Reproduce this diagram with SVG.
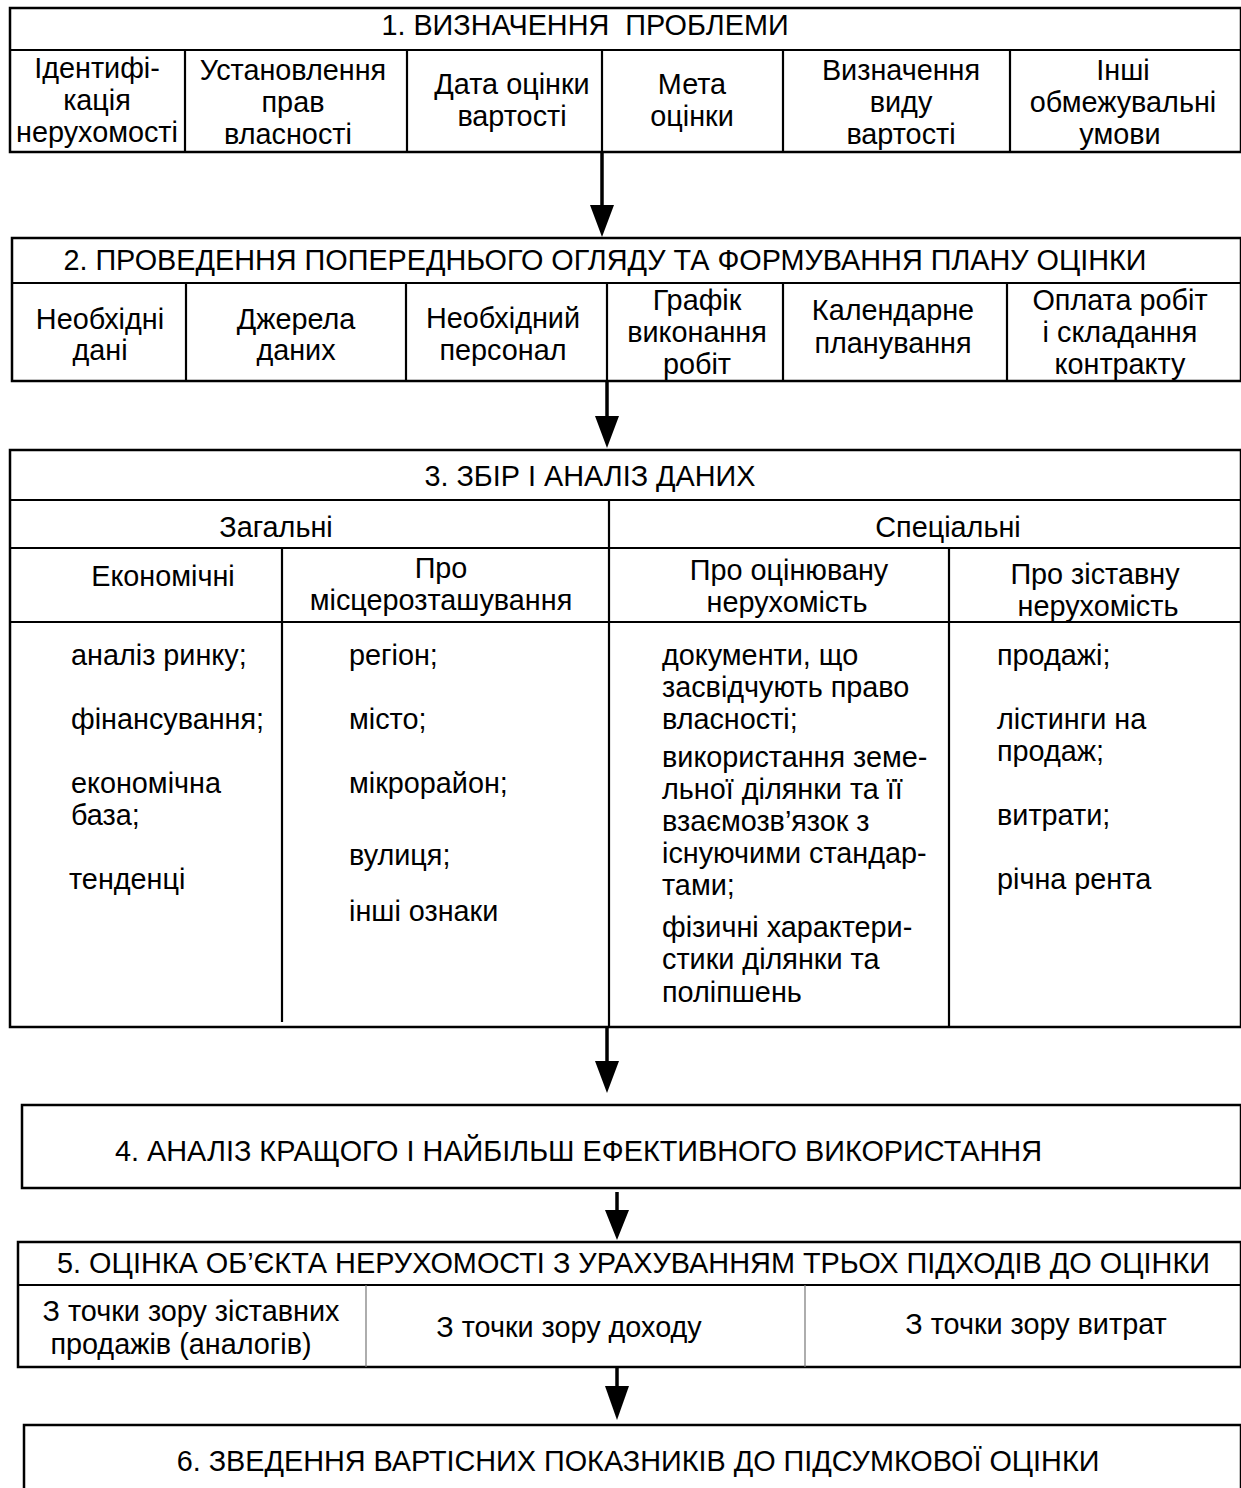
<svg xmlns="http://www.w3.org/2000/svg" width="1241" height="1488" viewBox="0 0 1241 1488">
<style>
text{font-family:"Liberation Sans",Arial,sans-serif;font-size:28.8px;fill:#000}
.c{text-anchor:middle}
.b{fill:none;stroke:#000;stroke-width:2.5}
.l{stroke:#000;stroke-width:2.2}
.t{stroke:#777;stroke-width:1.2}
.a{stroke:#000;stroke-width:3.5}
</style>
<g id="connectors">
<line class="a" x1="602" y1="152" x2="602" y2="205"/><path d="M590,205 L614,205 L602,237 Z"/>
<line class="a" x1="607" y1="381" x2="607" y2="416"/><path d="M595,416 L619,416 L607,448 Z"/>
<line class="a" x1="607" y1="1028" x2="607" y2="1061"/><path d="M595,1061 L619,1061 L607,1093 Z"/>
<line class="a" x1="617" y1="1192" x2="617" y2="1210"/><path d="M605,1210 L629,1210 L617,1240 Z"/>
<line class="a" x1="617" y1="1368" x2="617" y2="1386"/><path d="M605,1386 L629,1386 L617,1420 Z"/>
</g>
<g id="step1">
<rect class="b" x="10" y="8" width="1231" height="144"/>
<line class="l" x1="10" y1="50" x2="1241" y2="50"/>
<line class="l" x1="185" y1="50" x2="185" y2="152"/>
<line class="l" x1="407" y1="50" x2="407" y2="152"/>
<line class="l" x1="602" y1="50" x2="602" y2="152"/>
<line class="l" x1="783" y1="50" x2="783" y2="152"/>
<line class="l" x1="1010" y1="50" x2="1010" y2="152"/>
<text class="c" x="585" y="35" xml:space="preserve">1. ВИЗНАЧЕННЯ  ПРОБЛЕМИ</text>
<text class="c" x="97" y="78">Ідентифі-</text><text class="c" x="97" y="110">кація</text><text class="c" x="97" y="142">нерухомості</text>
<text class="c" x="293" y="80">Установлення</text><text class="c" x="293" y="112">прав</text><text class="c" x="288" y="144">власності</text>
<text class="c" x="512" y="94">Дата оцінки</text><text class="c" x="512" y="126">вартості</text>
<text class="c" x="692" y="94">Мета</text><text class="c" x="692" y="126">оцінки</text>
<text class="c" x="901" y="80">Визначення</text><text class="c" x="901" y="112">виду</text><text class="c" x="901" y="144">вартості</text>
<text class="c" x="1123" y="80">Інші</text><text class="c" x="1123" y="112">обмежувальні</text><text class="c" x="1120" y="144">умови</text>
</g>
<g id="step2">
<rect class="b" x="12" y="238" width="1229" height="143"/>
<line class="l" x1="12" y1="283" x2="1241" y2="283"/>
<line class="l" x1="186" y1="283" x2="186" y2="381"/>
<line class="l" x1="406" y1="283" x2="406" y2="381"/>
<line class="l" x1="607" y1="283" x2="607" y2="381"/>
<line class="l" x1="783" y1="283" x2="783" y2="381"/>
<line class="l" x1="1007" y1="283" x2="1007" y2="381"/>
<text class="c" x="605" y="270">2. ПРОВЕДЕННЯ ПОПЕРЕДНЬОГО ОГЛЯДУ ТА ФОРМУВАННЯ ПЛАНУ ОЦІНКИ</text>
<text class="c" x="100" y="329">Необхідні</text><text class="c" x="100" y="360">дані</text>
<text class="c" x="296" y="329">Джерела</text><text class="c" x="296" y="360">даних</text>
<text class="c" x="503" y="328">Необхідний</text><text class="c" x="503" y="360">персонал</text>
<text class="c" x="697" y="310">Графік</text><text class="c" x="697" y="342">виконання</text><text class="c" x="697" y="374">робіт</text>
<text class="c" x="893" y="320">Календарне</text><text class="c" x="893" y="353">планування</text>
<text class="c" x="1120" y="310">Оплата робіт</text><text class="c" x="1120" y="342">і складання</text><text class="c" x="1120" y="374">контракту</text>
</g>
<g id="step3">
<rect class="b" x="10" y="450" width="1231" height="577"/>
<line class="l" x1="10" y1="500" x2="1241" y2="500"/>
<line class="l" x1="10" y1="548" x2="1241" y2="548"/>
<line class="l" x1="10" y1="622" x2="1241" y2="622"/>
<line class="l" x1="609" y1="500" x2="609" y2="1027"/>
<line class="l" x1="282" y1="548" x2="282" y2="1022"/>
<line class="l" x1="949" y1="548" x2="949" y2="1027"/>
<text class="c" x="590" y="486">3. ЗБІР І АНАЛІЗ ДАНИХ</text>
<text class="c" x="276" y="537">Загальні</text>
<text class="c" x="948" y="537">Спеціальні</text>
<text class="c" x="163" y="586">Економічні</text>
<text class="c" x="441" y="578">Про</text><text class="c" x="441" y="610">місцерозташування</text>
<text class="c" x="789" y="580">Про оцінювану</text><text class="c" x="787" y="612">нерухомість</text>
<text class="c" x="1095" y="584">Про зіставну</text><text class="c" x="1098" y="616">нерухомість</text>
<text x="71" y="665">аналіз ринку;</text>
<text x="71" y="729">фінансування;</text>
<text x="71" y="793">економічна</text>
<text x="71" y="825">база;</text>
<text x="69" y="889">тенденці</text>
<text x="349" y="665">регіон;</text>
<text x="349" y="729">місто;</text>
<text x="349" y="793">мікрорайон;</text>
<text x="349" y="865">вулиця;</text>
<text x="349" y="921">інші ознаки</text>
<text x="662" y="665">документи, що</text>
<text x="662" y="697">засвідчують право</text>
<text x="662" y="729">власності;</text>
<text x="662" y="767">використання земе-</text>
<text x="662" y="799">льної ділянки та її</text>
<text x="662" y="831">взаємозв’язок з</text>
<text x="662" y="863">існуючими стандар-</text>
<text x="662" y="895">тами;</text>
<text x="662" y="937">фізичні характери-</text>
<text x="662" y="969">стики ділянки та</text>
<text x="662" y="1002">поліпшень</text>
<text x="997" y="665">продажі;</text>
<text x="997" y="729">лістинги на</text>
<text x="997" y="761">продаж;</text>
<text x="997" y="825">витрати;</text>
<text x="997" y="889">річна рента</text>
</g>
<g id="step4">
<rect class="b" x="22" y="1105" width="1219" height="83"/>
<text x="115" y="1161" textLength="927" lengthAdjust="spacingAndGlyphs">4. АНАЛІЗ КРАЩОГО І НАЙБІЛЬШ ЕФЕКТИВНОГО ВИКОРИСТАННЯ</text>
</g>
<g id="step5">
<rect class="b" x="18" y="1242" width="1223" height="125"/>
<line class="l" x1="18" y1="1285" x2="1241" y2="1285"/>
<line class="t" x1="366" y1="1285" x2="366" y2="1367"/>
<line class="t" x1="805" y1="1285" x2="805" y2="1367"/>
<text x="57" y="1273" textLength="1153" lengthAdjust="spacingAndGlyphs">5. ОЦІНКА ОБ’ЄКТА НЕРУХОМОСТІ З УРАХУВАННЯМ ТРЬОХ ПІДХОДІВ ДО ОЦІНКИ</text>
<text class="c" x="191" y="1321">З точки зору зіставних</text>
<text class="c" x="181" y="1354">продажів (аналогів)</text>
<text class="c" x="569" y="1337">З точки зору доходу</text>
<text class="c" x="1036" y="1334">З точки зору витрат</text>
</g>
<g id="step6">
<rect class="b" x="24" y="1425" width="1217" height="80"/>
<text class="c" x="638" y="1471">6. ЗВЕДЕННЯ ВАРТІСНИХ ПОКАЗНИКІВ ДО ПІДСУМКОВОЇ ОЦІНКИ</text>
</g>
</svg>
